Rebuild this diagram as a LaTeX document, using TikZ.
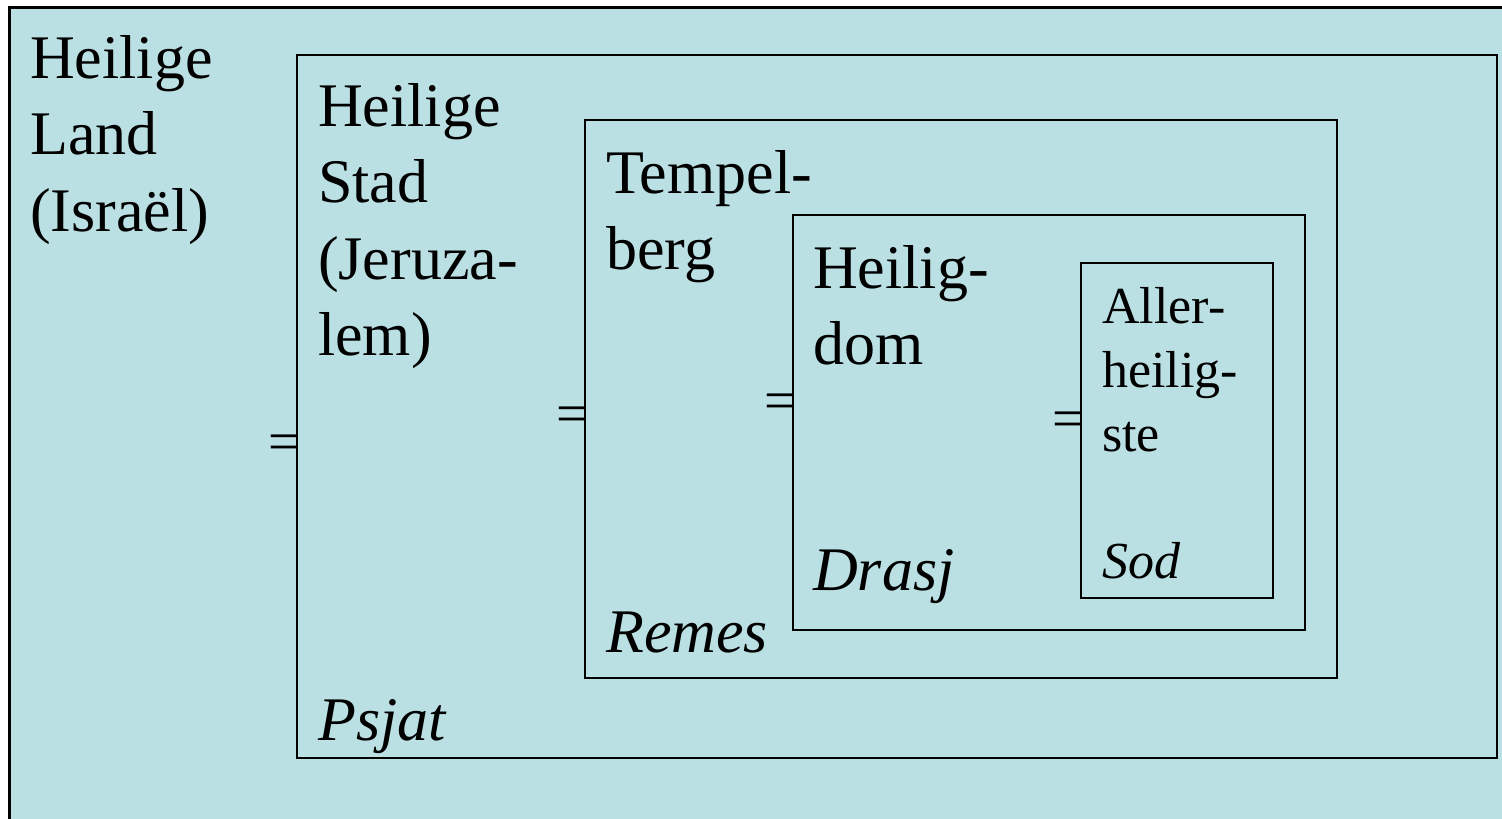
\documentclass[tikz,border=0pt]{standalone}
\usepackage{fontspec}
\setmainfont{Liberation Serif}
\definecolor{bgblue}{RGB}{187,224,227}
\tikzset{
  box/.style={draw=black, line width=2pt, rectangle, inner sep=0pt, outer sep=0pt},
  bigtxt/.style={anchor=base west, inner sep=0pt, align=left, text width=300pt, font=\fontsize{62}{76.5}\selectfont},
  smalltxt/.style={anchor=base west, inner sep=0pt, align=left, text width=200pt, font=\fontsize{52}{64}\selectfont},
  eqsign/.style={anchor=base east, inner sep=0pt, font=\fontsize{56}{60}\selectfont},
}
\begin{document}
\begin{tikzpicture}[x=1pt,y=-1pt]
\useasboundingbox (0,0) rectangle (1502,819);
\fill[white] (0,0) rectangle (1502,819);
\node[box, fill=bgblue, line width=3pt, minimum width=1500pt, minimum height=818pt] (b1) at (759.5,416) {};
\node[box, minimum width=1200pt, minimum height=703pt] (b2) at (897,406.5) {};
\node[box, minimum width=752pt, minimum height=558pt] (b3) at (961,399) {};
\node[box, minimum width=512pt, minimum height=415pt] (b4) at (1049,422.5) {};
\node[box, minimum width=192pt, minimum height=335pt] (b5) at (1177,430.5) {};
\node[bigtxt] (t1) at (30,78) {Heilige\\Land\\(Israël)};
\node[bigtxt] (t2) at (318,126) {Heilige\\Stad\\(Jeruza-\\lem)};
\node[bigtxt] (t3) at (606,193) {Tempel-\\berg};
\node[bigtxt] (t4) at (813,288) {Heilig-\\dom};
\node[smalltxt] (t5) at (1102,323) {Aller-\\heilig-\\ste};
\node[bigtxt, font=\fontsize{62}{76.5}\selectfont\itshape] (l2) at (318,740) {Psjat};
\node[bigtxt, font=\fontsize{62}{76.5}\selectfont\itshape] (l3) at (606,652) {Remes};
\node[bigtxt, font=\fontsize{62}{76.5}\selectfont\itshape] (l4) at (813,590) {Drasj};
\node[smalltxt, font=\fontsize{52}{64}\selectfont\itshape] (l5) at (1102,578) {Sod};
\node[eqsign, xshift=3pt] (e2) at (b2.west |- 0,460) {=};
\node[eqsign, xshift=3pt] (e3) at (b3.west |- 0,432) {=};
\node[eqsign, xshift=3pt] (e4) at (b4.west |- 0,419) {=};
\node[eqsign, xshift=3pt] (e5) at (b5.west |- 0,437) {=};
\end{tikzpicture}
\end{document}
